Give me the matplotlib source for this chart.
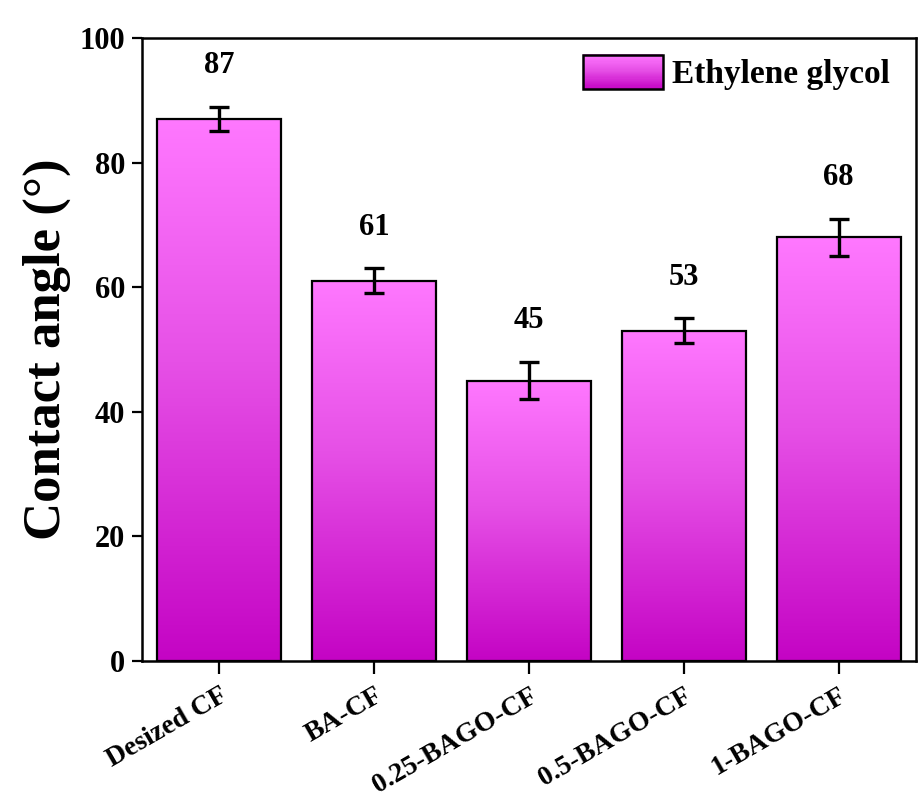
"""
Contact angle bar chart (ethylene glycol) with gradient-filled bars.
"""

import matplotlib
matplotlib.use("Agg")
import matplotlib.pyplot as plt
import numpy as np
from matplotlib.colors import LinearSegmentedColormap
from matplotlib.legend_handler import HandlerBase
from matplotlib.patches import Rectangle

# data
samples = ["Desized CF", "BA-CF", "0.25-BAGO-CF", "0.5-BAGO-CF", "1-BAGO-CF"]
angles = [87, 61, 45, 53, 68]
errors = [2, 2, 3, 2, 3]
series_label = "Ethylene glycol"

plt.rcParams["font.family"] = ["Liberation Serif", "DejaVu Serif"]
plt.rcParams["font.weight"] = "bold"

# bottom -> top colours of the bar fill
grad = LinearSegmentedColormap.from_list(
    "pinkgrad", [(0.0, "#c404c4"), (0.55, "#e650e6"), (1.0, "#ff78ff")]
)


class GradientHandler(HandlerBase):
    """Legend handle drawn as a striped gradient box."""

    def create_artists(self, legend, orig_handle, xdescent, ydescent,
                       width, height, fontsize, trans):
        n = 30
        arts = []
        for i in range(n):
            r = Rectangle((-xdescent, -ydescent + height * i / n), width, height / n + 0.3,
                          facecolor=grad((i + 0.5) / n), edgecolor="none",
                          transform=trans)
            arts.append(r)
        arts.append(Rectangle((-xdescent, -ydescent), width, height, facecolor="none",
                              edgecolor="black", linewidth=1.8, transform=trans))
        return arts


fig = plt.figure(figsize=(9.18, 7.98), dpi=100)
ax = fig.add_axes([0.1547, 0.1717, 0.8433, 0.7807])

x = np.arange(len(samples))
bars = ax.bar(x, angles, width=0.8, facecolor="none", edgecolor="black",
              linewidth=1.6, zorder=3)

gradient = np.linspace(0, 1, 256).reshape(-1, 1)
for b in bars:
    x0, y0 = b.get_x(), b.get_y()
    w, h = b.get_width(), b.get_height()
    im = ax.imshow(gradient, cmap=grad, origin="lower", aspect="auto",
                   extent=[x0, x0 + w, y0, y0 + h], zorder=2)
    im.set_clip_path(b)

ax.errorbar(x, angles, yerr=errors, fmt="none", ecolor="black", elinewidth=2.4,
            capsize=7.5, capthick=2.4, zorder=4)

for xi, v, e in zip(x, angles, errors):
    ax.text(xi, v + e + 6.6, f"{v}", ha="center", va="center",
            fontsize=22, fontweight="bold")

ax.set_xlim(-0.5, 4.5)
ax.set_ylim(0, 100)
ax.set_yticks(np.arange(0, 101, 20))
ax.set_xticks(x)
ax.set_xticklabels(samples, rotation=30, ha="right", rotation_mode="anchor",
                   fontsize=20, fontweight="bold")
ax.tick_params(axis="y", direction="out", length=7, width=1.6, labelsize=22, pad=5)
ax.tick_params(axis="x", direction="out", length=9, width=1.6, pad=7)
for lab in ax.get_yticklabels():
    lab.set_fontweight("bold")
for sp in ax.spines.values():
    sp.set_linewidth(1.8)

ax.set_ylabel("Contact angle (°)", fontsize=38, fontweight="bold", labelpad=6)

handle = Rectangle((0, 0), 1, 1)
ax.legend([handle], [series_label], handler_map={Rectangle: GradientHandler()},
          loc="upper right", bbox_to_anchor=(0.987, 1.0), frameon=False,
          handlelength=2.4, handleheight=1.2, handletextpad=0.25,
          borderaxespad=0.1, prop={"weight": "bold", "size": 24})

fig.savefig("out.png", dpi=100)
